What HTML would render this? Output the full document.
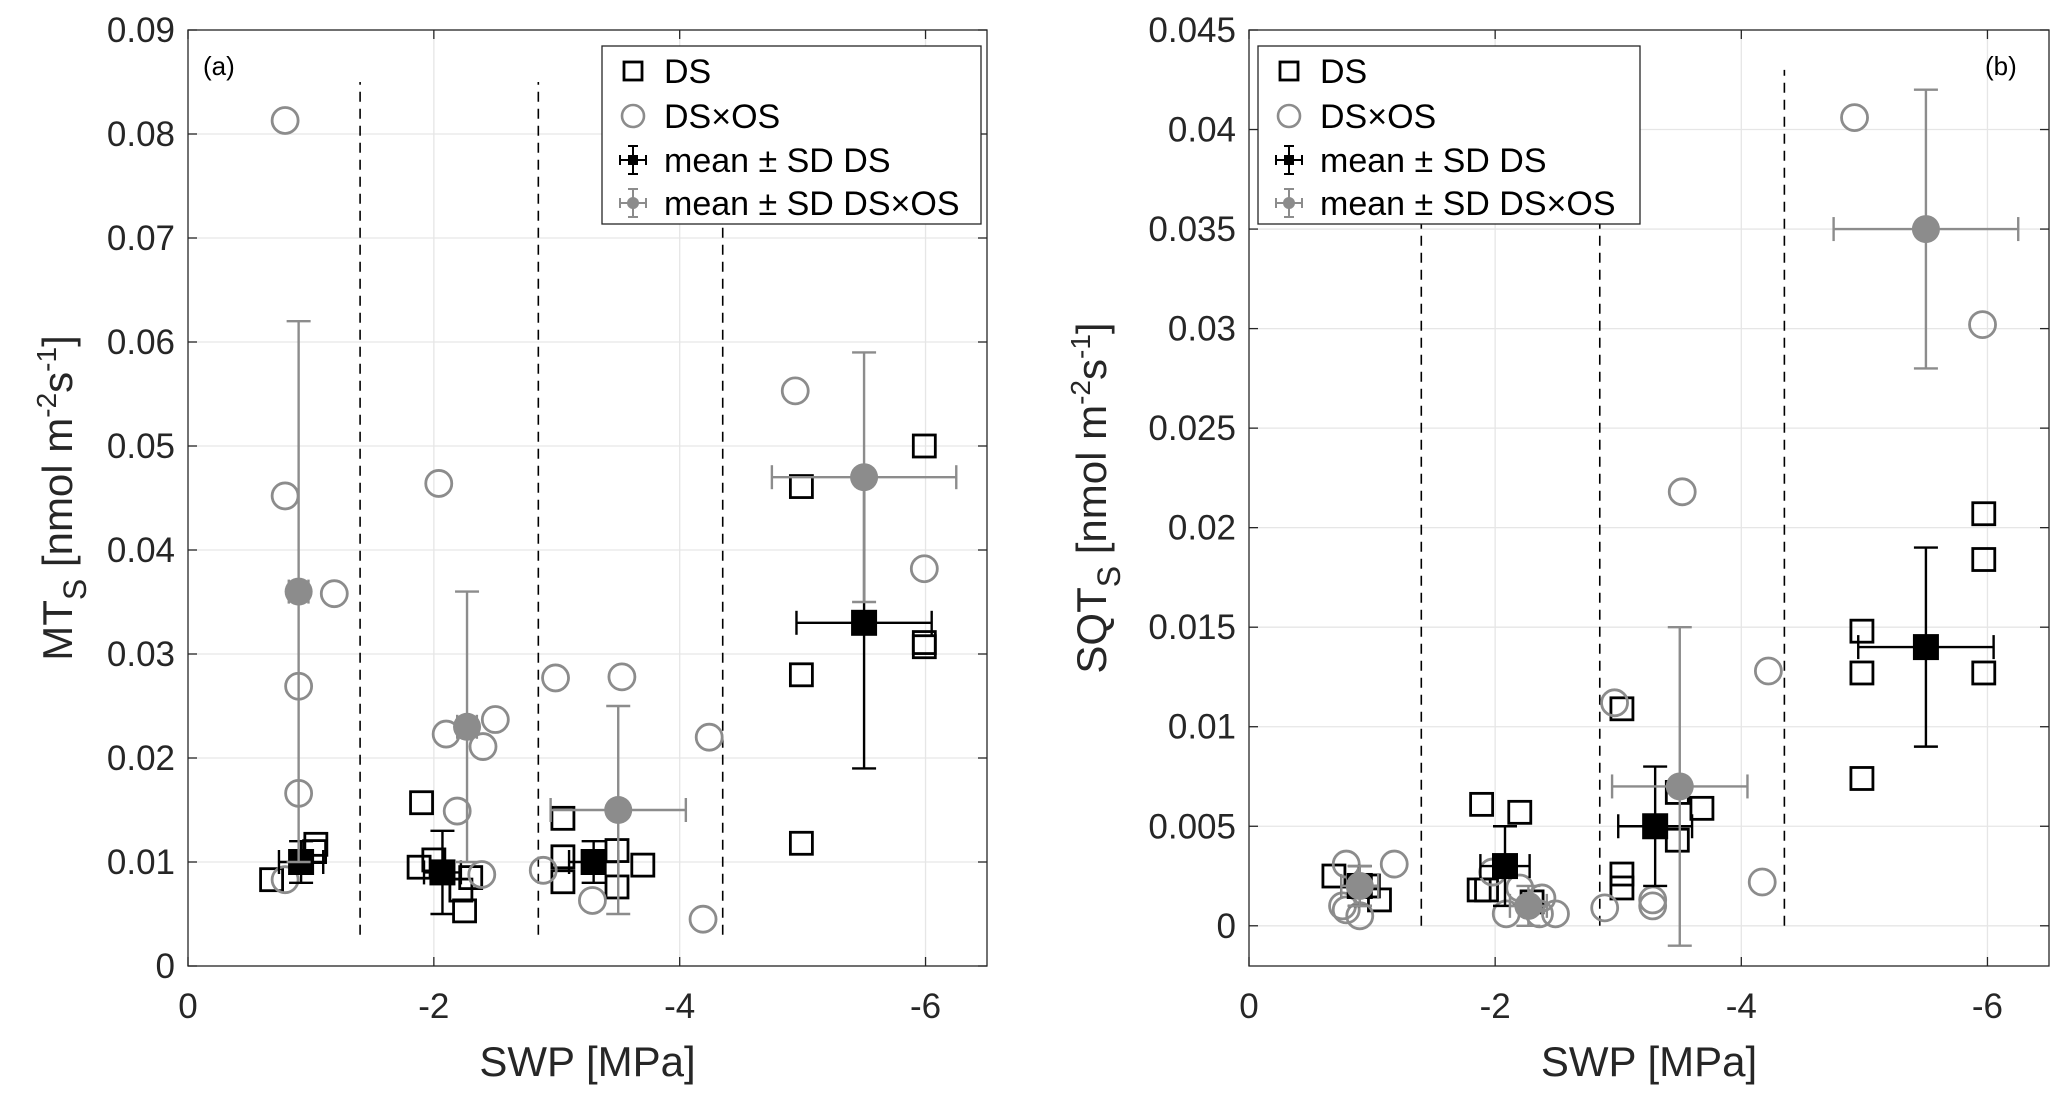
<!DOCTYPE html>
<html><head><meta charset="utf-8">
<style>
html,body{margin:0;padding:0;background:#fff;}
svg{display:block;font-family:"Liberation Sans",Arial,sans-serif;}
</style></head>
<body>
<svg id="fig" width="2067" height="1102" viewBox="0 0 2067 1102" xmlns="http://www.w3.org/2000/svg"></svg>
<script>
// ---------- Panel (a) data ----------
const aDsX = [-0.68,-1.04,-1.03,-1.9,-1.88,-2.0,-2.22,-2.25,-2.3,-3.05,-3.05,-3.05,-3.49,-3.49,-3.7,-4.99,-4.99,-4.99,-5.99,-5.99,-5.99];
const aDsY = [0.0083,0.0117,0.011,0.0157,0.0095,0.0102,0.0073,0.0053,0.0085,0.0142,0.0105,0.0081,0.0111,0.0076,0.0097,0.0461,0.028,0.0118,0.05,0.0311,0.0307];
const aOsX = [-0.79,-0.79,-1.19,-0.9,-0.9,-0.79,-2.04,-2.1,-2.19,-2.4,-2.5,-2.39,-2.89,-2.99,-3.53,-3.29,-4.24,-4.19,-4.94,-5.99];
const aOsY = [0.0813,0.0452,0.0358,0.0269,0.0166,0.0083,0.0464,0.0223,0.0149,0.0211,0.0237,0.0088,0.0092,0.0277,0.0278,0.0063,0.022,0.0045,0.0553,0.0382];
const aMeanDsX = [-0.92,-2.07,-3.3,-5.5];
const aMeanDsY = [0.010,0.009,0.010,0.033];
const aMeanDsXErr = [0.18,0.15,0.2,0.55];
const aMeanDsYErr = [0.002,0.004,0.002,0.014];
const aMeanOsX = [-0.9,-2.27,-3.5,-5.5];
const aMeanOsY = [0.036,0.023,0.015,0.047];
const aMeanOsXErr = [0.08,0.08,0.55,0.75];
const aMeanOsYErr = [0.026,0.013,0.010,0.012];
const aYTicks = [0,0.01,0.02,0.03,0.04,0.05,0.06,0.07,0.08,0.09];
const aYTickLabels = ["0","0.01","0.02","0.03","0.04","0.05","0.06","0.07","0.08","0.09"];
// ---------- Panel (b) data ----------
const bDsX = [-0.69,-1.06,-0.97,-1.89,-2.2,-1.87,-1.93,-2.3,-3.03,-3.03,-3.03,-3.48,-3.48,-3.68,-4.98,-4.98,-4.98,-5.97,-5.97,-5.97];
const bDsY = [0.0025,0.0013,0.002,0.0061,0.0057,0.0018,0.0018,0.0012,0.0109,0.0026,0.0019,0.0067,0.0043,0.0059,0.0148,0.0127,0.0074,0.0207,0.0184,0.0127];
const bOsX = [-0.79,-1.18,-0.79,-0.9,-0.76,-1.98,-2.09,-2.2,-2.38,-2.36,-2.49,-2.89,-2.97,-3.28,-3.28,-3.52,-4.22,-4.17,-4.92,-5.96];
const bOsY = [0.0031,0.0031,0.0008,0.0005,0.001,0.0027,0.0006,0.0019,0.0014,0.0006,0.0006,0.0009,0.0112,0.0013,0.001,0.0218,0.0128,0.0022,0.0406,0.0302];
const bMeanDsX = [-0.9,-2.08,-3.3,-5.5];
const bMeanDsY = [0.002,0.003,0.005,0.014];
const bMeanDsXErr = [0.15,0.2,0.3,0.55];
const bMeanDsYErr = [0.001,0.002,0.003,0.005];
const bMeanOsX = [-0.9,-2.27,-3.5,-5.5];
const bMeanOsY = [0.002,0.001,0.007,0.035];
const bMeanOsXErr = [0.15,0.15,0.55,0.75];
const bMeanOsYErr = [0.001,0.001,0.008,0.007];
const bYTicks = [0,0.005,0.01,0.015,0.02,0.025,0.03,0.035,0.04,0.045];
const bYTickLabels = ["0","0.005","0.01","0.015","0.02","0.025","0.03","0.035","0.04","0.045"];
const xTicks = [0,-2,-4,-6];
const xTickLabels = ["0","-2","-4","-6"];
const dividers = [-1.4,-2.85,-4.35];

const NS="http://www.w3.org/2000/svg";
const svg=document.getElementById('fig');
function el(tag,attrs,parent,text){const e=document.createElementNS(NS,tag);for(const k in attrs)e.setAttribute(k,attrs[k]);if(text!==undefined)e.textContent=text;(parent||svg).appendChild(e);return e;}

function panel(cfg){
  const g=el('g',{});
  
  
  const L=cfg.L,R=cfg.R,T=cfg.T,B=cfg.B;
  const sx=v=>L+(v-0)/(-6.5)*(R-L);
  const sy=v=>B-(v-cfg.ymin)/(cfg.ymax-cfg.ymin)*(B-T);
  const grid=el('g',{stroke:'#e6e6e6','stroke-width':1.3},g);
   
  xTicks.forEach(t=>{if(t!==0)el('line',{x1:sx(t),x2:sx(t),y1:T,y2:B},grid);});
  cfg.yTicks.forEach(t=>{el('line',{x1:L,x2:R,y1:sy(t),y2:sy(t)},grid);});
  dividers.forEach((d,i)=>{const ln=el('line',{x1:sx(d),x2:sx(d),y1:sy(cfg.divLo),y2:sy(cfg.divHi),stroke:'#000','stroke-width':1.6,'stroke-dasharray':'10,7'},g);
     });
  const box=el('rect',{x:L,y:T,width:R-L,height:B-T,fill:'none',stroke:'#262626','stroke-width':1.3},g);
   
  const xt=el('g',{fill:'#262626','font-size':35,'text-anchor':'middle'},g);
   
  xTicks.forEach((t,i)=>{
    el('line',{x1:sx(t),x2:sx(t),y1:B,y2:B-9,stroke:'#262626','stroke-width':1.3},g);
    el('line',{x1:sx(t),x2:sx(t),y1:T,y2:T+9,stroke:'#262626','stroke-width':1.3},g);
    el('text',{x:sx(t),y:B+52},xt,xTickLabels[i]);
  });
  const yt=el('g',{fill:'#262626','font-size':35,'text-anchor':'end'},g);
   
  cfg.yTicks.forEach((t,i)=>{
    el('line',{x1:L,x2:L+9,y1:sy(t),y2:sy(t),stroke:'#262626','stroke-width':1.3},g);
    el('line',{x1:R,x2:R-9,y1:sy(t),y2:sy(t),stroke:'#262626','stroke-width':1.3},g);
    el('text',{x:L-13,y:sy(t)+12},yt,cfg.yTickLabels[i]);
  });
  const xl=el('text',{x:(L+R)/2,y:1076,'font-size':42,fill:'#262626','text-anchor':'middle'},g,'SWP [MPa]');
   
  const yl=el('text',{transform:`translate(${cfg.ylx},${(T+B)/2}) rotate(-90)`,'font-size':42,fill:'#262626','text-anchor':'middle'},g);
   
  el('tspan',{},yl,cfg.ylab);
  el('tspan',{'font-size':32,dy:14},yl,'S');
  el('tspan',{dy:-14},yl,' [nmol m');
  el('tspan',{'font-size':28,dy:-16},yl,'-2');
  el('tspan',{dy:16},yl,'s');
  el('tspan',{'font-size':28,dy:-16},yl,'-1');
  el('tspan',{dy:16},yl,']');
  const pl=el('text',{x:cfg.letterX,y:75,'font-size':26,fill:'#000'},g,cfg.letter);
   
  const sq=el('g',{fill:'none',stroke:'#000','stroke-width':2.8},g);
   
  cfg.dsX.forEach((x,i)=>{const r=el('rect',{x:sx(x)-11,y:sy(cfg.dsY[i])-11,width:22,height:22},sq);
     });
  const ci=el('g',{fill:'none',stroke:'#8c8c8c','stroke-width':2.8},g);
   
  cfg.osX.forEach((x,i)=>{const c=el('circle',{cx:sx(x),cy:sy(cfg.osY[i]),r:13},ci);
     });
  function means(X,Y,XE,YE,color,kind,nm){
    const mg=el('g',{stroke:color,'stroke-width':2.4,fill:color},g);
     
    X.forEach((x,i)=>{
      const cx=sx(x),cy=sy(Y[i]),x1=sx(x+XE[i]),x2=sx(x-XE[i]),y1=sy(Y[i]-YE[i]),y2=sy(Y[i]+YE[i]);
      el('line',{x1:cx,x2:cx,y1:y1,y2:y2},mg);
      el('line',{x1:cx-12,x2:cx+12,y1:y1,y2:y1},mg);
      el('line',{x1:cx-12,x2:cx+12,y1:y2,y2:y2},mg);
      el('line',{x1:x1,x2:x2,y1:cy,y2:cy},mg);
      el('line',{x1:x1,x2:x1,y1:cy-12,y2:cy+12},mg);
      el('line',{x1:x2,x2:x2,y1:cy-12,y2:cy+12},mg);
      let m;
      if(kind==='sq') m=el('rect',{x:cx-13,y:cy-13,width:26,height:26,stroke:'none'},mg);
      else m=el('circle',{cx:cx,cy:cy,r:14,stroke:'none'},mg);
       
    });
  }
  means(cfg.mdX,cfg.mdY,cfg.mdXE,cfg.mdYE,'#000','sq','mean-ds');
  means(cfg.moX,cfg.moY,cfg.moXE,cfg.moYE,'#8c8c8c','ci','mean-dsxos');
  const lg=el('g',{},g);
   
  const lx=cfg.legX;
  el('rect',{x:lx,y:46,width:cfg.legW,height:178,fill:'#fff',stroke:'#262626','stroke-width':1.3},lg);
  const mx=lx+31, tx=lx+62, rows=[71,116,160,203];
  el('rect',{x:mx-9,y:rows[0]-9,width:18,height:18,fill:'none',stroke:'#000','stroke-width':2.8},lg);
  el('circle',{cx:mx,cy:rows[1],r:11,fill:'none',stroke:'#8c8c8c','stroke-width':2.6},lg);
  [[rows[2],'#000','sq'],[rows[3],'#8c8c8c','ci']].forEach(([y,c,k])=>{
    el('line',{x1:mx,x2:mx,y1:y-14,y2:y+14,stroke:c,'stroke-width':2},lg);
    el('line',{x1:mx-5,x2:mx+5,y1:y-14,y2:y-14,stroke:c,'stroke-width':2},lg);
    el('line',{x1:mx-5,x2:mx+5,y1:y+14,y2:y+14,stroke:c,'stroke-width':2},lg);
    el('line',{x1:mx-13,x2:mx+13,y1:y,y2:y,stroke:c,'stroke-width':2},lg);
    el('line',{x1:mx-13,x2:mx-13,y1:y-5,y2:y+5,stroke:c,'stroke-width':2},lg);
    el('line',{x1:mx+13,x2:mx+13,y1:y-5,y2:y+5,stroke:c,'stroke-width':2},lg);
    if(k==='sq') el('rect',{x:mx-5,y:y-5,width:10,height:10,fill:c},lg); else el('circle',{cx:mx,cy:y,r:6,fill:c},lg);
  });
  const labels=['DS','DS×OS','mean ± SD DS','mean ± SD DS×OS'];
  labels.forEach((t,i)=>{const e=el('text',{x:tx,y:rows[i]+12,'font-size':34,fill:'#000'},lg,t);
     });
}

panel({name:'panel-a',L:188,R:987,T:30,B:966,ymin:0,ymax:0.09,yTicks:aYTicks,yTickLabels:aYTickLabels,
  ylab:'MT',ylx:72,letter:'(a)',letterX:203,divLo:0.003,divHi:0.085,
  dsX:aDsX,dsY:aDsY,osX:aOsX,osY:aOsY,
  mdX:aMeanDsX,mdY:aMeanDsY,mdXE:aMeanDsXErr,mdYE:aMeanDsYErr,
  moX:aMeanOsX,moY:aMeanOsY,moXE:aMeanOsXErr,moYE:aMeanOsYErr,legX:602,legW:379});
panel({name:'panel-b',L:1249,R:2049,T:30,B:966,ymin:-0.00202,ymax:0.045,yTicks:bYTicks,yTickLabels:bYTickLabels,
  ylab:'SQT',ylx:1106,letter:'(b)',letterX:1985,divLo:0,divHi:0.043,
  dsX:bDsX,dsY:bDsY,osX:bOsX,osY:bOsY,
  mdX:bMeanDsX,mdY:bMeanDsY,mdXE:bMeanDsXErr,mdYE:bMeanDsYErr,
  moX:bMeanOsX,moY:bMeanOsY,moXE:bMeanOsXErr,moYE:bMeanOsYErr,legX:1258,legW:382});
</script>
</body></html>
